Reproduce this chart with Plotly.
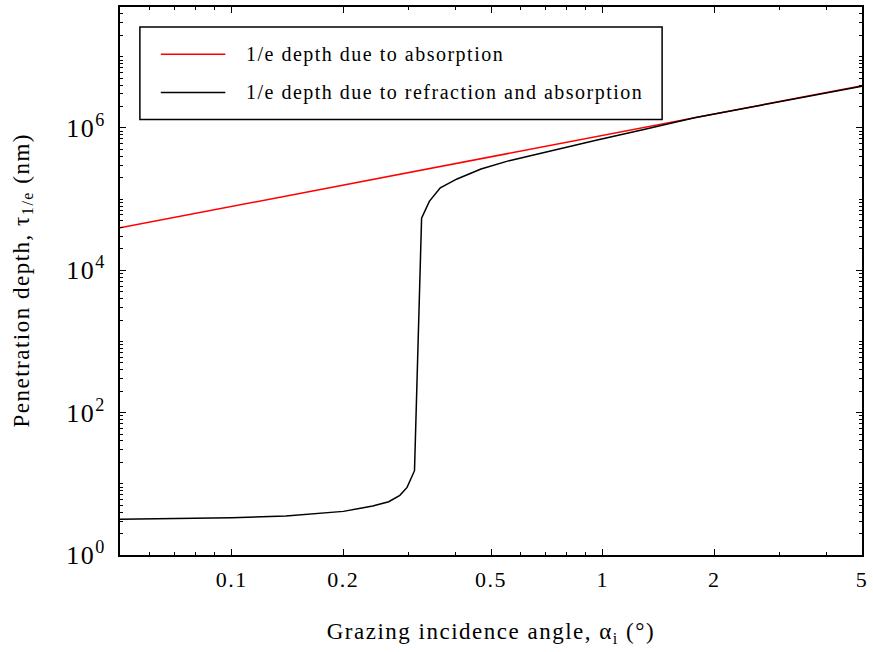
import plotly.graph_objects as go

# Penetration depth vs grazing incidence angle (log-log)
angle_abs = [0.05, 0.1, 0.2, 0.5, 1.0, 2.0, 5.0]
depth_abs = [3.95e4, 7.9e4, 1.58e5, 3.95e5, 7.9e5, 1.58e6, 3.92e6]

angle_tot = [0.05, 0.07, 0.1, 0.14, 0.2, 0.24, 0.265, 0.284, 0.297, 0.311,
             0.325, 0.341, 0.365, 0.405, 0.47, 0.56, 0.7, 0.96, 1.3, 1.78,
             2.5, 3.5, 5.0]
depth_tot = [3.17, 3.25, 3.34, 3.52, 4.1, 4.87, 5.6, 6.9, 8.9, 15.3,
             5.4e4, 9.3e4, 1.44e5, 1.92e5, 2.65e5, 3.47e5, 4.6e5, 6.7e5,
             9.6e5, 1.40e6, 1.95e6, 2.74e6, 3.86e6]

x_tickvals = [0.1, 0.2, 0.5, 1, 2, 5]
x_ticktext = ["0.1", "0.2", "0.5", "1", "2", "5"]

y_tickvals = [1, 1e2, 1e4, 1e6]
y_ticktext = ["10<sup>0</sup>", "10<sup>2</sup>", "10<sup>4</sup>", "10<sup>6</sup>"]

legend_labels = ["1/e depth due to absorption",
                 "1/e depth due to refraction and absorption"]
line_colors = ["#ff0000", "#000000"]

SERIF = "Liberation Serif, Times New Roman, serif"

fig = go.Figure()
fig.add_trace(go.Scatter(x=angle_abs, y=depth_abs, mode="lines",
                         line=dict(color=line_colors[0], width=1.5),
                         name=legend_labels[0], showlegend=False))
fig.add_trace(go.Scatter(x=angle_tot, y=depth_tot, mode="lines",
                         line=dict(color=line_colors[1], width=1.5),
                         name=legend_labels[1], showlegend=False))

axis_common = dict(showline=True, linecolor="black", linewidth=2, mirror="allticks",
                   ticks="inside", tickcolor="black", tickwidth=1, showgrid=False,
                   zeroline=False)
# logarithmic minor ticks at 2..9 of every decade
minor_ticks = dict(dtick="D1", ticks="inside", ticklen=3, tickcolor="black",
                   tickwidth=1, showgrid=False)

fig.update_xaxes(type="log", range=[-1.30103, 0.69897],
                 tickmode="array", tickvals=x_tickvals, ticktext=x_ticktext,
                 ticklen=6, tickfont=dict(family=SERIF, size=22, color="black"),
                 ticklabelstandoff=4, minor=minor_ticks, **axis_common)
fig.update_yaxes(type="log", range=[0, 7.69897],
                 tickmode="array", tickvals=y_tickvals, ticktext=y_ticktext,
                 ticklen=6, tickfont=dict(family=SERIF, size=26, color="black"),
                 ticklabelstandoff=7, minor=minor_ticks, **axis_common)

# Legend box drawn in paper coordinates
lx0, lx1, ly0, ly1 = 0.0268, 0.7306, 0.7945, 0.9636
fig.add_shape(type="rect", xref="paper", yref="paper", x0=lx0, x1=lx1, y0=ly0, y1=ly1,
              line=dict(color="black", width=1.5), fillcolor="white", layer="above")
entry_y = [0.914, 0.844]
for lab, col, yy in zip(legend_labels, line_colors, entry_y):
    fig.add_shape(type="line", xref="paper", yref="paper", x0=0.055, x1=0.142,
                  y0=yy, y1=yy, line=dict(color=col, width=1.5), layer="above")
    fig.add_annotation(xref="paper", yref="paper", x=0.1676, y=yy, text=lab,
                       showarrow=False, xanchor="left", yanchor="middle", align="left",
                       font=dict(family=SERIF, size=20, color="black"))

# Axis titles
fig.add_annotation(xref="paper", yref="paper", x=0.5, y=-0.1418,
                   text="Grazing incidence angle, α<sub>i</sub> (°)", showarrow=False,
                   xanchor="center", yanchor="middle",
                   font=dict(family=SERIF, size=23, color="black"))
fig.add_annotation(xref="paper", yref="paper", x=-0.1314, y=0.5, textangle=-90,
                   text="Penetration depth, τ<sub>1/e</sub> (nm)", showarrow=False,
                   xanchor="center", yanchor="middle",
                   font=dict(family=SERIF, size=23, color="black"))

fig.update_layout(width=873, height=652, autosize=False,
                  margin=dict(l=120, r=7, t=5, b=97),
                  paper_bgcolor="white", plot_bgcolor="white",
                  font=dict(family=SERIF, color="black"))

# Slightly widened glyph spacing for all labels
spacing_js = """
document.querySelectorAll('.annotation-text, .xtick text, .ytick text').forEach(function(t){
  t.style.letterSpacing = '1.5px';
});
"""
fig.write_html("out.html", post_script=spacing_js, config={"responsive": False})
